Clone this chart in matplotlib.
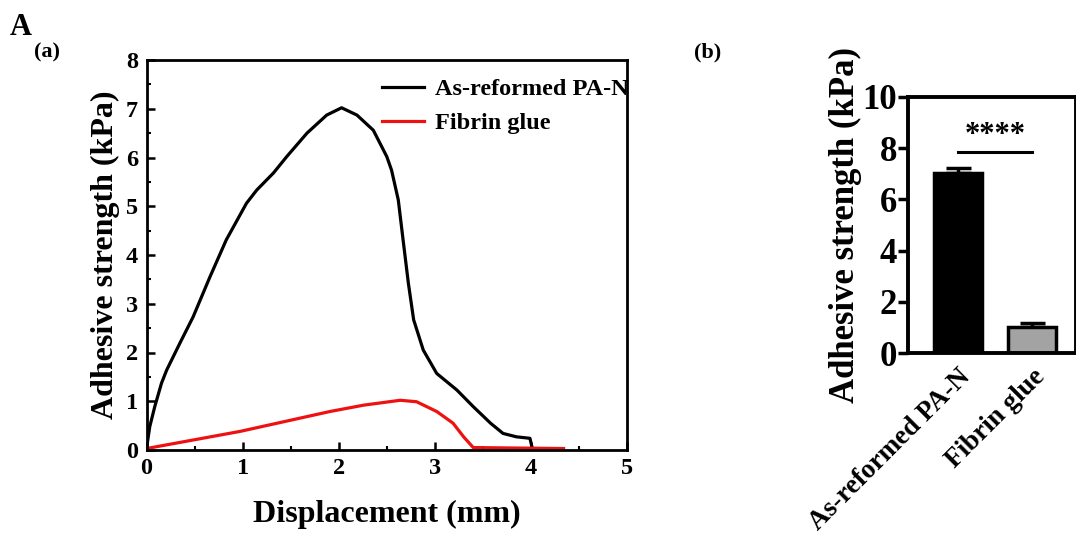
import matplotlib.pyplot as plt
from matplotlib.ticker import MultipleLocator

plt.rcParams['font.family'] = ['Liberation Serif', 'DejaVu Serif']
plt.rcParams['font.weight'] = 'bold'

# Panel (a): displacement curves (mm, kPa)
pan_x = [0, 0.034, 0.086, 0.156, 0.21, 0.347, 0.485, 0.66, 0.83, 1.04, 1.146, 1.32,
         1.46, 1.67, 1.875, 2.03, 2.19, 2.36, 2.5, 2.55, 2.62, 2.67, 2.725, 2.78,
         2.88, 3.02, 3.23, 3.40, 3.58, 3.71, 3.85, 3.99, 4.01]
pan_y = [0.03, 0.48, 0.89, 1.37, 1.64, 2.19, 2.73, 3.55, 4.31, 5.06, 5.33, 5.68,
         6.02, 6.50, 6.87, 7.02, 6.87, 6.56, 6.02, 5.74, 5.13, 4.31, 3.42, 2.67,
         2.05, 1.57, 1.23, 0.89, 0.55, 0.34, 0.27, 0.24, 0.07]
glue_x = [0, 0.97, 1.91, 2.26, 2.64, 2.81, 3.02, 3.19, 3.30, 3.40, 4.34]
glue_y = [0.03, 0.38, 0.79, 0.92, 1.02, 0.99, 0.79, 0.55, 0.27, 0.05, 0.03]

# Panel (b): mean adhesive strength with error
groups = ['As-reformed PA-N', 'Fibrin glue']
means = [7.02, 1.02]
errors = [0.2, 0.16]
bar_colors = ['black', '#a3a3a3']

fig = plt.figure(figsize=(10.76, 5.41), dpi=100)

# ---- (a) line plot
ax = fig.add_axes([146.5 / 1076, 1 - 450 / 541, 480.5 / 1076, 390 / 541])
ax.plot(pan_x, pan_y, color='black', lw=2.3, label='As-reformed PA-N')
ax.plot(glue_x, glue_y, color='#ee1111', lw=2.3, label='Fibrin glue')
ax.set_xlim(0, 5)
ax.set_ylim(0, 8)
ax.xaxis.set_major_locator(MultipleLocator(1))
ax.xaxis.set_minor_locator(MultipleLocator(0.5))
ax.yaxis.set_major_locator(MultipleLocator(1))
ax.yaxis.set_minor_locator(MultipleLocator(0.5))
ax.tick_params(which='major', direction='in', length=6, width=1.8, labelsize=17.5, pad=6)
ax.tick_params(which='minor', direction='in', length=3, width=1.5)
for s in ax.spines.values():
    s.set_linewidth(2)
ax.set_xlabel('Displacement (mm)', fontsize=23, fontweight='bold', labelpad=15)
ax.set_ylabel('Adhesive strength (kPa)', fontsize=23, fontweight='bold', labelpad=4)
ax.legend(loc='upper right', frameon=False, fontsize=17.5, handlelength=1.7,
          handletextpad=0.45, borderaxespad=0.1, labelspacing=0.5,
          bbox_to_anchor=(1.028, 0.985))

# ---- (b) bar chart
bx = fig.add_axes([908 / 1076, 1 - 353.3 / 541, 167.5 / 1076, 256.6 / 541])
pos = list(range(len(groups)))
bx.bar(pos, means, width=0.65, color=bar_colors, edgecolor='black', linewidth=2.5, zorder=2)
bx.errorbar(pos, means, yerr=[[0, 0], errors], fmt='none', ecolor='black',
            elinewidth=2.5, capsize=9, capthick=2.5, zorder=1)
bx.set_xlim(-0.68, 1.59)
bx.set_ylim(0, 10)
bx.yaxis.set_major_locator(MultipleLocator(2))
bx.set_xticks(pos)
bx.set_xticklabels(groups, rotation=45, ha='right', rotation_mode='anchor', fontsize=19.5)
bx.tick_params(axis='y', direction='out', length=7, width=2.5, labelsize=25, pad=1)
bx.tick_params(axis='x', length=0, pad=8)
for s in bx.spines.values():
    s.set_linewidth(2.8)
bx.set_ylabel('Adhesive strength (kPa)', fontsize=25, fontweight='bold', labelpad=0)
bx.plot(pos, [7.85, 7.85], color='black', lw=2.2)
bx.text(0.5, 8.5, '****', ha='center', va='center', fontsize=22, fontweight='bold')

# panel letters
fig.text(10 / 1076, 1 - 35 / 541, 'A', fontsize=22, fontweight='bold')
fig.text(34 / 1076, 1 - 57 / 541, '(a)', fontsize=16, fontweight='bold')
fig.text(694 / 1076, 1 - 57 / 541, '(b)', fontsize=16, fontweight='bold')

fig.savefig('out.png', dpi=100)
